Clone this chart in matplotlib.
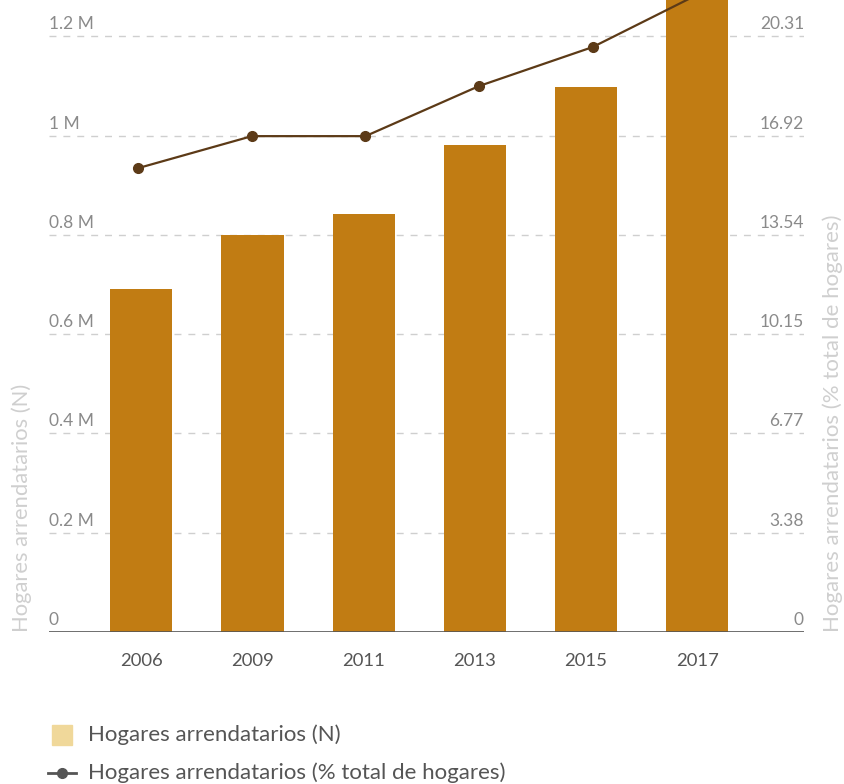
import matplotlib
matplotlib.use("Agg")
import matplotlib.pyplot as plt
from matplotlib.patches import Rectangle
from matplotlib.lines import Line2D
import matplotlib.transforms as mtransforms

plt.rcParams['font.family'] = ['Lato', 'DejaVu Sans']

# Data
years = ["2006", "2009", "2011", "2013", "2015", "2017"]
hogares_n = [691000, 800000, 842000, 981000, 1098000, 1330000]
hogares_pct = [15.82, 16.91, 16.91, 18.62, 19.95, 21.89]

left_ticks = [0, 200000, 400000, 600000, 800000, 1000000, 1200000]
left_labels = ["0", "0.2 M", "0.4 M", "0.6 M", "0.8 M", "1 M", "1.2 M"]
right_labels = ["0", "3.38", "6.77", "10.15", "13.54", "16.92", "20.31"]
right_max = 20.31

label_n = "Hogares arrendatarios (N)"
label_pct = "Hogares arrendatarios (% total de hogares)"

bar_color = "#C17C13"
line_color = "#5C3A17"
legend_bar_color = "#F0D89A"
grid_color = "#CFCFCF"
tick_color = "#8A8A8A"
axis_label_color = "#CFCFCF"
text_color = "#555555"

W, H = 845, 784
fig = plt.figure(figsize=(W / 100, H / 100), dpi=100)

left_px, right_px = 49, 804
base_px, top_px = 631.7, 0
rect = [left_px / W, (H - base_px) / H,
        (right_px - left_px) / W, (base_px - top_px) / H]
ax = fig.add_axes(rect)

ymax = 1.2e6 * base_px / (base_px - 36.5)
x = list(range(len(years)))

ax.bar(x, hogares_n, width=0.56, color=bar_color, zorder=2)
ax.set_xlim(-0.83, 5.96)
ax.set_ylim(0, ymax)

# dashed gridlines
for v in left_ticks[1:]:
    ax.axhline(v, color=grid_color, lw=1, ls=(0, (5, 5)), zorder=1)
ax.axhline(0, color="#555555", lw=1.2, zorder=3)

for s in ax.spines.values():
    s.set_visible(False)
ax.set_yticks([])
ax.set_xticks(x)
ax.set_xticklabels(years, fontsize=13.3, color=text_color)
ax.tick_params(axis='x', length=0, pad=15)

# tick labels sitting just above the gridlines
off = mtransforms.offset_copy(ax.get_yaxis_transform(), fig=fig, x=0, y=4, units='dots')
for v, lab in zip(left_ticks, left_labels):
    ax.text(0, v, lab, transform=off, ha='left', va='bottom',
            fontsize=12.5, color=tick_color)

# percentage series on its own overlay axes
ax2 = fig.add_axes(rect, frameon=False)
ax2.set_xlim(-0.786, 5.860)
ax2.set_ylim(0, right_max * ymax / 1.2e6)
ax2.plot(x, hogares_pct, color=line_color, lw=1.6, marker='o',
         markersize=7, zorder=4)
ax2.set_xticks([])
ax2.set_yticks([])
off2 = mtransforms.offset_copy(ax2.get_yaxis_transform(), fig=fig, x=0, y=4, units='dots')
for i, lab in enumerate(right_labels):
    ax2.text(1, i * right_max / 6, lab, transform=off2, ha='right', va='bottom',
             fontsize=12.5, color=tick_color)

# axis titles
fig.text(22 / W, (H - base_px) / H, label_n, rotation=90, ha='center', va='bottom',
         fontsize=15.8, color=axis_label_color)
fig.text(833 / W, (H - base_px) / H, label_pct, rotation=90, ha='center', va='bottom',
         fontsize=16, color=axis_label_color)

# legend
fig.patches.append(Rectangle((52 / W, (H - 745) / H), 20 / W, 20 / H,
                             transform=fig.transFigure, color=legend_bar_color))
fig.text(88 / W, (H - 735) / H, label_n, ha='left', va='center',
         fontsize=16, color=text_color)
fig.lines.append(Line2D([48 / W, 76 / W], [(H - 773) / H] * 2, transform=fig.transFigure,
                        color=text_color, lw=2))
fig.lines.append(Line2D([62 / W], [(H - 773) / H], transform=fig.transFigure,
                        color=text_color, marker='o', markersize=7))
fig.text(88 / W, (H - 773) / H, label_pct, ha='left', va='center',
         fontsize=16, color=text_color)

fig.savefig("out.png", dpi=100)
